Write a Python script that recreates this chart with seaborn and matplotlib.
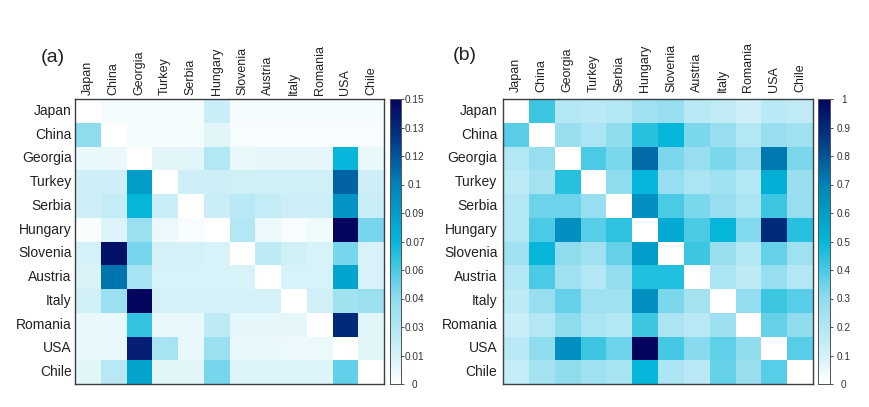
import numpy as np
import seaborn as sns
import matplotlib.pyplot as plt
from matplotlib.colors import LinearSegmentedColormap

plt.rcParams['font.family'] = ['Liberation Sans', 'DejaVu Sans']

countries = ["Japan", "China", "Georgia", "Turkey", "Serbia", "Hungary",
             "Slovenia", "Austria", "Italy", "Romania", "USA", "Chile"]

values_a = [
    [0, .004, .004, .004, .004, .020, .004, .004, .004, .004, .004, .004],
    [.045, 0, .004, .004, .004, .010, .003, .003, .003, .003, .003, .003],
    [.008, .008, 0, .010, .010, .030, .008, .009, .009, .009, .075, .008],
    [.018, .018, .090, 0, .018, .018, .017, .017, .017, .017, .115, .018],
    [.018, .022, .075, .020, 0, .020, .027, .022, .019, .019, .095, .020],
    [.002, .012, .040, .007, .003, 0, .030, .007, .003, .006, .150, .050],
    [.015, .145, .050, .015, .015, .014, 0, .025, .017, .014, .050, .014],
    [.013, .110, .035, .014, .014, .014, .014, 0, .014, .014, .085, .014],
    [.016, .040, .150, .015, .015, .015, .015, .015, 0, .017, .037, .040],
    [.008, .008, .065, .008, .008, .025, .009, .009, .009, 0, .135, .010],
    [.008, .008, .140, .035, .008, .040, .008, .008, .007, .007, 0, .010],
    [.010, .028, .085, .010, .010, .050, .012, .012, .012, .012, .055, 0],
]

values_b = [
    [0, .42, .20, .18, .20, .25, .28, .18, .16, .12, .18, .16],
    [.38, 0, .27, .22, .30, .45, .50, .33, .28, .20, .28, .25],
    [.20, .28, 0, .40, .33, .75, .33, .28, .33, .27, .72, .33],
    [.17, .24, .45, 0, .30, .50, .28, .22, .25, .20, .53, .27],
    [.20, .35, .35, .28, 0, .65, .40, .33, .28, .22, .42, .28],
    [.20, .40, .65, .38, .44, 0, .55, .40, .50, .32, .90, .45],
    [.25, .50, .30, .25, .36, .60, 0, .42, .27, .20, .36, .25],
    [.20, .40, .25, .20, .29, .46, .46, 0, .22, .17, .28, .20],
    [.17, .28, .36, .25, .25, .65, .33, .24, 0, .29, .42, .38],
    [.13, .20, .30, .22, .20, .42, .22, .18, .26, 0, .36, .30],
    [.18, .30, .65, .42, .35, 1.0, .41, .31, .37, .30, 0, .38],
    [.15, .24, .30, .25, .23, .50, .22, .18, .36, .27, .38, 0],
]

cbar_ticks_a = [0, .015, .03, .045, .06, .075, .09, .105, .12, .135, .15]
cbar_labels_a = ["0", "0.01", "0.03", "0.04", "0.06", "0.07", "0.09", "0.1", "0.12", "0.13", "0.15"]
cbar_ticks_b = [0, .1, .2, .3, .4, .5, .6, .7, .8, .9, 1]
cbar_labels_b = ["0", "0.1", "0.2", "0.3", "0.4", "0.5", "0.6", "0.7", "0.8", "0.9", "1"]

W, H = 869, 407
DARK = "#3a3f44"

# blanco -> celeste -> cyan -> azul -> navy
cmap = LinearSegmentedColormap.from_list("blues_cyan", [
    (0.0, "#ffffff"), (0.1, "#d4f1f8"), (0.3, "#8fdcef"), (0.5, "#05b7da"),
    (0.7, "#0083b8"), (0.85, "#023e8a"), (1.0, "#03045e"),
])


def box(x0, y0, x1, y1):
    # pixeles de la imagen a coordenadas de figura
    return [x0 / W, 1 - y1 / H, (x1 - x0) / W, (y1 - y0) / H]


def panel(fig, values, vmax, ticks, labels, ax_px, cb_px, tag, tag_xy, xpad, ypad):
    ax = fig.add_axes(box(*ax_px))
    cax = fig.add_axes(box(*cb_px))
    sns.heatmap(np.array(values), ax=ax, cbar_ax=cax, cmap=cmap, vmin=0, vmax=vmax,
                xticklabels=countries, yticklabels=countries)
    ax.xaxis.tick_top()
    ax.tick_params(axis="both", length=0, colors="#222222")
    ax.tick_params(axis="x", labelrotation=90, labelsize=9, pad=xpad)
    ax.tick_params(axis="y", labelrotation=0, labelsize=10, pad=ypad)
    for side in ax.spines.values():
        side.set_visible(True)
        side.set_color(DARK)
        side.set_linewidth(1.0)
    cax.set_yticks(ticks)
    cax.set_yticklabels(labels, ha="center")
    cax.tick_params(axis="y", length=2, width=0.6, labelsize=7.2, pad=8, colors="#333333")
    for side in cax.spines.values():
        side.set_visible(True)
        side.set_color("#555555")
        side.set_linewidth(0.7)
    fig.text(tag_xy[0] / W, 1 - tag_xy[1] / H, tag, fontsize=14, ha="left", va="center", color="#222222")


fig = plt.figure(figsize=(W / 100, H / 100), dpi=100)
panel(fig, values_a, .15, cbar_ticks_a, cbar_labels_a,
      (75, 99, 384, 384), (389.5, 99, 401, 384), "(a)", (41, 57), 3, 2.5)
panel(fig, values_b, 1, cbar_ticks_b, cbar_labels_b,
      (503, 99, 813, 384), (818, 99, 830, 384), "(b)", (453, 56), 5, 4)
fig.savefig("out.png", dpi=100)
